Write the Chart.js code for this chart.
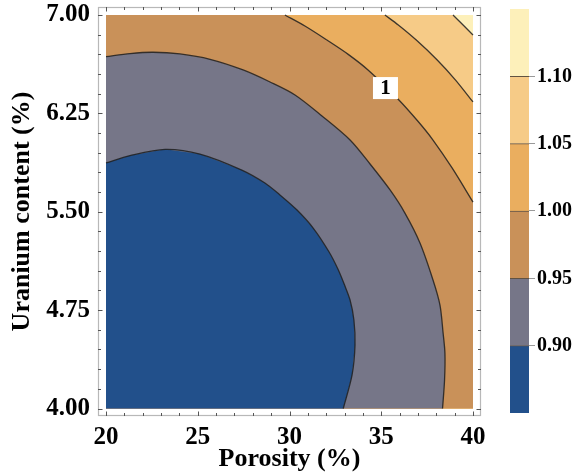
<!DOCTYPE html>
<html><head><meta charset="utf-8">
<script src="https://cdn.jsdelivr.net/npm/chart.js@4.4.0/dist/chart.umd.min.js"></script>
<style>
html,body{margin:0;padding:0;background:#fff;}
#wrap{position:relative;width:575px;height:476px;}
#main{position:absolute;left:0;top:0;}
#cb{position:absolute;left:500px;top:0;}
</style></head><body>
<div id="wrap">
<canvas id="main" width="575" height="476"></canvas>
<canvas id="cb" width="75" height="476"></canvas>
</div>
<script>
// ---- data ----
const xRange = [20, 40];
const yRange = [4, 7];
const xTicks = [20, 25, 30, 35, 40];
const yTicks = [4.00, 4.75, 5.50, 6.25, 7.00];
const levels = [0.90, 0.95, 1.00, 1.05, 1.10];
const colorbarRange = [0.85, 1.15];
// contour lines, [porosity, uranium]
const contour090 = [[20.00,5.872],[21.31,5.928],[23.22,5.976],[25.12,5.940],[27.40,5.818],[28.66,5.719],[29.48,5.628],[30.41,5.513],[31.30,5.374],[32.15,5.195],[32.65,5.060],[32.99,4.945],[33.30,4.827],[33.51,4.675],[33.57,4.484],[33.41,4.256],[32.93,4.000]];
const contour095 = [[20.00,6.682],[21.31,6.706],[22.56,6.716],[24.03,6.703],[25.67,6.662],[27.47,6.581],[28.94,6.489],[30.30,6.390],[31.77,6.230],[33.30,6.047],[34.39,5.864],[35.48,5.666],[36.29,5.490],[37.11,5.262],[37.82,4.980],[38.20,4.789],[38.37,4.576],[38.47,4.423],[38.45,4.217],[38.34,4.000]];
const contour100 = [[29.75,7.000],[30.84,6.916],[32.04,6.809],[33.20,6.700],[34.28,6.581],[35.91,6.360],[37.00,6.190],[37.82,6.047],[38.86,5.834],[40.00,5.574]];
const contour105 = [[35.20,7.000],[35.93,6.924],[36.91,6.809],[38.05,6.657],[39.05,6.504],[40.00,6.337]];
const contour110 = [[38.91,7.000],[39.46,6.924],[40.00,6.848]];
const contourLabel = {text: '1', x: 35.23, y: 6.443};

// ---- styles ----
const bandColors = ['#22508b', '#767688', '#c99159', '#eaae5f', '#f6cb87', '#fdf0ba'];
const lineColor = 'rgba(30,30,30,0.85)';
const serif = '"Liberation Serif", "Times New Roman", serif';

const pt = a => a.map(p => ({x: p[0], y: p[1]}));
const [x0, x1] = xRange, [y0, y1] = yRange;
const lowLeft = [[x0, y0]];
const lowRightAround = [[x1, y0], [x0, y0], [x0, y1]];

function region(points, color, order) {
  return {data: pt(points), fill: 'shape', backgroundColor: color, borderWidth: 0,
          borderColor: 'transparent', pointRadius: 0, tension: 0, order};
}
function cline(points) {
  return {data: pt(points), fill: false, borderColor: lineColor, borderWidth: 1.3,
          pointRadius: 0, tension: 0.3, order: 1};
}

const datasets = [
  region([[x0, y0], [x1, y0], [x1, y1], [x0, y1]], bandColors[5], 100),
  region(contour110.concat(lowRightAround), bandColors[4], 90),
  region(contour105.concat(lowRightAround), bandColors[3], 80),
  region(contour100.concat(lowRightAround), bandColors[2], 70),
  region(contour095.concat(lowLeft), bandColors[1], 60),
  region(contour090.concat(lowLeft), bandColors[0], 50),
  cline(contour110), cline(contour105), cline(contour100), cline(contour095), cline(contour090)
];

const xPad = 0.436, yPadTop = 0.061, yPadBot = 0.057;

const framePlugin = {
  id: 'frame',
  afterDatasetsDraw(chart) {
    const {ctx, chartArea: a, scales: {x, y}} = chart;
    ctx.save();
    ctx.strokeStyle = '#b8b8b8'; ctx.lineWidth = 1.2;
    ctx.strokeRect(a.left + 0.5, a.top + 0.5, a.right - a.left - 1, a.bottom - a.top - 1);
    ctx.strokeStyle = '#555'; ctx.lineWidth = 1;
    const seg = (ax, ay, bx, by) => { ctx.beginPath(); ctx.moveTo(ax, ay); ctx.lineTo(bx, by); ctx.stroke(); };
    for (let i = 0; i <= 20; i++) {
      const v = x0 + i;
      const major = xTicks.some(t => Math.abs(t - v) < 1e-6);
      const L = major ? 4.5 : 3;
      const px = Math.round(x.getPixelForValue(v)) + 0.5;
      seg(px, a.bottom, px, a.bottom - L);
      seg(px, a.top, px, a.top + L);
    }
    for (let i = 0; i <= 20; i++) {
      const v = y0 + i * 0.15;
      const major = yTicks.some(t => Math.abs(t - v) < 1e-6);
      const L = major ? 4.5 : 3;
      const py = Math.round(y.getPixelForValue(v)) + 0.5;
      seg(a.left, py, a.left + L, py);
      seg(a.right, py, a.right - L, py);
    }
    const lx = x.getPixelForValue(contourLabel.x), ly = y.getPixelForValue(contourLabel.y);
    ctx.fillStyle = '#fff';
    ctx.fillRect(lx - 12.5, ly - 11, 25, 22);
    ctx.fillStyle = '#000';
    ctx.font = 'bold 21px ' + serif;
    ctx.textAlign = 'center'; ctx.textBaseline = 'middle';
    ctx.fillText(contourLabel.text, lx, ly + 1);
    ctx.restore();
  }
};

const tickFont = {family: serif, weight: 'bold', size: 25};
const titleFont = {family: serif, weight: 'bold', size: 26};

new Chart(document.getElementById('main'), {
  type: 'line',
  data: {datasets},
  options: {
    responsive: false, animation: false, devicePixelRatio: 1,
    layout: {padding: {top: 7, right: 94, bottom: 0, left: 0}},
    plugins: {legend: {display: false}, tooltip: {enabled: false}},
    scales: {
      x: {
        type: 'linear', min: x0 - xPad, max: x1 + xPad,
        afterBuildTicks: s => { s.ticks = xTicks.map(v => ({value: v})); },
        afterFit: s => { s.height = 60; s.paddingLeft = 0; s.paddingRight = 0; },
        grid: {display: false, drawTicks: false}, border: {display: false},
        ticks: {font: tickFont, color: '#000', padding: 7, maxRotation: 0, autoSkip: false,
                callback: v => String(v)},
        title: {display: true, text: 'Porosity (%)', font: titleFont, color: '#000',
                padding: {top: 0, bottom: 1}}
      },
      y: {
        type: 'linear', min: y0 - yPadBot, max: y1 + yPadTop,
        afterBuildTicks: s => { s.ticks = yTicks.map(v => ({value: v})); },
        afterFit: s => { s.width = 98; s.paddingTop = 0; s.paddingBottom = 0; },
        grid: {display: false, drawTicks: false}, border: {display: false},
        ticks: {font: tickFont, color: '#000', padding: 8, autoSkip: false,
                callback: v => Number(v).toFixed(2)},
        title: {display: true, text: 'Uranium content (%)', font: titleFont, color: '#000',
                padding: {top: 7, bottom: 0}}
      }
    }
  },
  plugins: [framePlugin]
});

// ---- colorbar ----
const bandEdges = [colorbarRange[0]].concat(levels, [colorbarRange[1]]);
const cbDatasets = bandColors.map((c, i) => ({
  data: [[bandEdges[i], bandEdges[i + 1]]],
  backgroundColor: c,
  borderColor: 'rgba(70,55,40,0.85)',
  borderWidth: i < bandColors.length - 1 ? {top: 1, bottom: 0, left: 0, right: 0} : 0,
  borderSkipped: false, grouped: false, barPercentage: 1, categoryPercentage: 1
}));

new Chart(document.getElementById('cb'), {
  type: 'bar',
  data: {labels: [''], datasets: cbDatasets},
  options: {
    responsive: false, animation: false, devicePixelRatio: 1,
    layout: {padding: {left: 10, top: 9, bottom: 63, right: 0}},
    plugins: {legend: {display: false}, tooltip: {enabled: false}},
    scales: {
      x: {display: false},
      y: {
        position: 'right', min: colorbarRange[0], max: colorbarRange[1],
        afterBuildTicks: s => { s.ticks = levels.map(v => ({value: v})); },
        afterFit: s => { s.width = 46; s.paddingTop = 0; s.paddingBottom = 0; },
        grid: {drawOnChartArea: false, drawTicks: true, tickLength: 6, color: '#9a9a9a'},
        border: {display: false},
        ticks: {padding: 2, font: {family: serif, weight: 'bold', size: 20}, color: '#000',
                callback: v => Number(v).toFixed(2)}
      }
    }
  }
});
</script>
</body></html>
